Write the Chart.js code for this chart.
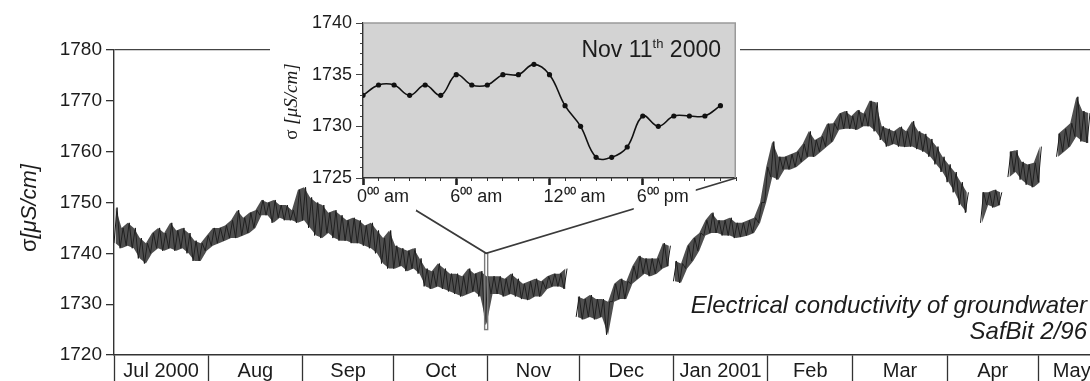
<!DOCTYPE html>
<html>
<head>
<meta charset="utf-8">
<script src="https://cdn.jsdelivr.net/npm/chart.js@4.4.1/dist/chart.umd.min.js"></script>
<style>
  html, body { margin: 0; padding: 0; background: #fff; }
  #wrap { position: relative; width: 1090px; height: 381px; overflow: hidden; }
  #main { position: absolute; left: 0; top: 0; }
  #inset { position: absolute; left: 270px; top: 0; }
</style>
</head>
<body>
<div id="wrap">
  <canvas id="main" width="1090" height="381"></canvas>
  <canvas id="inset" width="470" height="215"></canvas>
</div>
<script>
// ---- Long record: electrical conductivity, SafBit 2/96 (days since 1 Jul 2000) ----
const monthNames = ['Jul 2000', 'Aug', 'Sep', 'Oct', 'Nov', 'Dec', 'Jan 2001', 'Feb', 'Mar', 'Apr', 'May'];
const monthStartDays = [0, 31, 62, 92, 123, 153, 184, 215, 243, 274, 304];
const axisEndDay = 321;
const lastCellEndDay = 326;

const yTicksMain = [1720, 1730, 1740, 1750, 1760, 1770, 1780];

// every reading window gives the lowest and highest value logged in it; null = no data
const sampleDays = [
  0, 2, 4, 6, 8, 10, 12, 14, 16, 18, 20, 22, 24, 26, 28, 30, 32, 34, 36, 38,
  40, 42, 44, 46, 48, 50, 52, 54, 56, 58, 60, 62, 64, 66, 68, 70, 72, 74, 76, 78,
  80, 82, 84, 86, 88, 90, 92, 94, 96, 98, 100, 102, 104, 106, 108, 110, 112, 114, 116, 118,
  120, 122, 124, 126, 128, 130, 132, 134, 136, 138, 140, 142, 144, 146, 148, 150,
  152, 154, 156, 158, 160, 162, 164, 166, 168, 170, 172, 174, 176, 178, 180, 182, 183.5,
  184, 186, 188, 190, 192, 194, 196, 198, 200, 202, 204, 206, 208, 210, 212, 214, 216, 218,
  220, 222, 224, 226, 228, 230, 232, 234, 236, 238, 240, 242, 244, 246, 248, 250, 252, 254,
  256, 258, 260, 262, 264, 266, 268, 270, 272, 274, 276, 278, 280, 282,
  285, 287, 289, 291, 292.5, 294, 296, 298, 300, 302, 304, 307, 310, 312, 314, 316, 318, 320
];
const lowValues = [
  1742, 1741, 1741.5, 1741, 1739, 1738, 1740, 1741, 1740.5, 1741, 1740.5, 1741, 1740, 1738.5, 1738.5, 1740.5, 1741.5, 1742, 1742.5, 1743,
  1743, 1743.5, 1744, 1745, 1747.5, 1747.5, 1746, 1747, 1746.5, 1746.5, 1746, 1746.5, 1745, 1743.5, 1743, 1744, 1743, 1742.5, 1742.5, 1742,
  1742, 1741.5, 1741, 1740, 1738, 1737, 1737, 1737.5, 1736.5, 1737, 1736, 1733.5, 1733, 1733.5, 1733, 1732.5, 1732, 1731.5, 1732, 1732.5,
  1731.5, 1726, 1732, 1732, 1731.5, 1732, 1731.5, 1731, 1730.8, 1731.5, 1731.5, 1733, 1733.5, 1733.5, 1733, null,
  1727.5, 1727, 1727.5, 1727, 1727.5, 1724, 1730.5, 1731, 1731, 1734, 1735, 1736, 1735.5, 1736, 1737, 1737.5, null,
  1734.5, 1734.2, 1737, 1738.5, 1740.5, 1743.5, 1744, 1744, 1743.5, 1743.5, 1743, 1743.2, 1743.5, 1744, 1746, 1750, 1755, 1754.5,
  1756.5, 1756.5, 1757, 1758, 1759, 1759, 1760, 1761, 1762, 1764.3, 1764.5, 1764.5, 1764.3, 1765, 1765, 1764, 1762.3, 1761,
  1761.5, 1761, 1760.9, 1761, 1760.5, 1760, 1759, 1757.5, 1756, 1754, 1752, 1749.5, 1748, null,
  1746, 1749.5, 1749, 1749.5, null, 1755, 1756, 1754.5, 1753.5, 1753, 1754, null, 1759, 1760, 1761, 1763, 1762, 1761.7
];
const highValues = [
  1749, 1745, 1746, 1745, 1743, 1742, 1744, 1745, 1744, 1746, 1744.5, 1745, 1744, 1742.5, 1742, 1743.5, 1745, 1745, 1745.5, 1746.5,
  1748.5, 1747, 1748, 1748.5, 1750.5, 1750, 1750.5, 1749.5, 1749.5, 1748.5, 1752.5, 1753, 1751, 1750, 1749.5, 1748, 1748.5, 1747.5, 1746.5, 1747,
  1746.5, 1745.5, 1746, 1744.5, 1743, 1744.5, 1741.5, 1741, 1740.5, 1741, 1739, 1737, 1736.5, 1738, 1737, 1736, 1736, 1735.5, 1737, 1736,
  1736.5, 1735.5, 1735.5, 1735.5, 1735, 1736, 1735, 1734, 1734.5, 1735, 1734.5, 1735.5, 1736, 1736, 1737, null,
  1731.5, 1731, 1731.8, 1731, 1731, 1730.5, 1734, 1735, 1734.5, 1737.5, 1739.5, 1739, 1739, 1739, 1742, 1741.5, null,
  1738.5, 1738, 1741.5, 1743, 1744, 1746.5, 1748, 1746.5, 1746.5, 1747, 1746, 1746, 1746.5, 1747, 1750, 1757, 1762, 1759,
  1759, 1759.5, 1760, 1761.5, 1764, 1762.3, 1763, 1765.5, 1765.6, 1767.5, 1768, 1767, 1768.2, 1767.5, 1770, 1769.7, 1765, 1764.5,
  1764, 1764.9, 1764, 1766, 1764, 1763.5, 1762.5, 1761, 1759, 1757.5, 1756, 1754, 1752, null,
  1752, 1752, 1752.5, 1752, null, 1760, 1760.3, 1758, 1757.5, 1757.8, 1761, null, 1763.5, 1764.5, 1765.6, 1770.8, 1768, 1767.6
];

// day picked out for the hourly close-up, and the value range it covers
const highlightDay = 122.4;
const highlightRange = [1725, 1740];

// ---- Close-up: hourly readings on Nov 11th 2000 ----
const hours = [0, 1, 2, 3, 4, 5, 6, 7, 8, 9, 10, 11, 12, 13, 14, 15, 16, 17, 18, 19, 20, 21, 22, 23];
const hourlyValues = [1733, 1734, 1734, 1733, 1734, 1733, 1735, 1734, 1734, 1735, 1735, 1736,
                      1735, 1732, 1730, 1727, 1727, 1728, 1731, 1730, 1731, 1731, 1731, 1732];
const hourLabels = { 0: '0\u2070\u2070 am', 6: '6\u2070\u2070 am', 12: '12\u2070\u2070 am', 18: '6\u2070\u2070 pm' };
const insetTicks = [1725, 1730, 1735, 1740];

const SANS = '"Liberation Sans", Arial, sans-serif';
const SERIF = '"Liberation Serif", "Times New Roman", serif';
const INK = '#1c1c1c';

// ---------------- close-up chart ----------------
const insetDecor = {
  id: 'insetDecor',
  beforeDraw(chart) {
    const { ctx, chartArea: a } = chart;
    ctx.save();
    ctx.fillStyle = '#fff';
    ctx.fillRect(0, 0, chart.width, a.bottom);
    ctx.fillRect(0, a.bottom, a.left, 9);
    // paper behind the hour labels
    const xs = chart.scales.x;
    ctx.font = '18px ' + SANS;
    Object.keys(hourLabels).forEach(h => {
      const px = xs.getPixelForValue(+h);
      const w = ctx.measureText(hourLabels[h]).width;
      ctx.fillRect(px - 9, a.bottom, w + 10, 33);
    });
    ctx.fillStyle = '#d3d3d3';
    ctx.fillRect(a.left, a.top, a.right - a.left, a.bottom - a.top);
    ctx.restore();
  },
  afterDraw(chart) {
    const { ctx, chartArea: a } = chart;
    ctx.save();
    ctx.strokeStyle = '#9a9a9a';
    ctx.lineWidth = 1.5;
    ctx.beginPath();
    ctx.moveTo(a.left, a.top);
    ctx.lineTo(a.right - 0.75, a.top);
    ctx.lineTo(a.right - 0.75, a.bottom);
    ctx.stroke();

    // date caption
    ctx.fillStyle = INK;
    ctx.textBaseline = 'alphabetic';
    const big = '23px ' + SANS, small = '13px ' + SANS;
    const parts = [['Nov 11', big, 0], ['th', small, -9], [' 2000', big, 0]];
    let total = 0;
    parts.forEach(p => { ctx.font = p[1]; total += ctx.measureText(p[0]).width; });
    let x = a.right - 15 - total;
    parts.forEach(p => {
      ctx.font = p[1];
      ctx.fillText(p[0], x, 57 + p[2]);
      x += ctx.measureText(p[0]).width;
    });

    // vertical axis caption
    ctx.translate(22, (a.top + a.bottom) / 2 + 1);
    ctx.rotate(-Math.PI / 2);
    const f1 = '19px ' + SERIF, f2 = 'italic 19px ' + SERIF;
    ctx.font = f1; const w1 = ctx.measureText('\u03c3 ').width;
    ctx.font = f2; const w2 = ctx.measureText('[\u03bcS/cm]').width;
    ctx.textBaseline = 'middle';
    ctx.font = f1; ctx.fillText('\u03c3 ', -(w1 + w2) / 2, 0);
    ctx.font = f2; ctx.fillText('[\u03bcS/cm]', -(w1 + w2) / 2 + w1, 0);
    ctx.restore();
  }
};

const insetChart = new Chart(document.getElementById('inset'), {
  type: 'line',
  data: {
    datasets: [{
      data: hours.map((h, i) => ({ x: h, y: hourlyValues[i] })),
      borderColor: '#111',
      borderWidth: 1.6,
      tension: 0.4,
      pointRadius: 2.6,
      pointBackgroundColor: '#111',
      pointBorderWidth: 0
    }]
  },
  options: {
    responsive: false,
    animation: false,
    layout: { padding: { top: 23, right: 0, bottom: 0, left: 0 } },
    plugins: { legend: { display: false }, tooltip: { enabled: false } },
    scales: {
      xm: {
        type: 'linear', position: 'bottom', min: 0, max: 24, weight: 0,
        ticks: { display: false, stepSize: 1 },
        grid: { drawOnChartArea: false, tickLength: 3, tickColor: '#333', tickWidth: 1 },
        border: { display: false },
        afterFit(s) { s.height = 0; }
      },
      x: {
        type: 'linear', position: 'bottom', min: 0, max: 24, weight: 1,
        afterBuildTicks(s) { s.ticks = Object.keys(hourLabels).map(h => ({ value: +h })); },
        ticks: {
          autoSkip: false, maxRotation: 0, align: 'start', labelOffset: -6, padding: 1,
          color: INK, font: { family: SANS, size: 18 },
          callback: v => hourLabels[v] || ''
        },
        grid: { drawOnChartArea: false, tickLength: 7, tickColor: '#222', tickWidth: 2.6 },
        border: { color: '#333', width: 1.4 },
        afterFit(s) { s.height = 37; }
      },
      ym: {
        type: 'linear', position: 'left', min: 1725, max: 1740, weight: 0,
        ticks: { display: false, stepSize: 1 },
        grid: { drawOnChartArea: false, tickLength: 3, tickColor: '#444', tickWidth: 1 },
        border: { display: false },
        afterFit(s) { s.width = 0; }
      },
      y: {
        type: 'linear', position: 'left', min: 1725, max: 1740, weight: 1,
        afterBuildTicks(s) { s.ticks = insetTicks.map(v => ({ value: v })); },
        ticks: { color: INK, font: { family: SANS, size: 18 }, padding: 4, callback: v => String(v) },
        grid: { drawOnChartArea: false, tickLength: 7, tickColor: '#444', tickWidth: 1 },
        border: { color: '#333', width: 1.4 },
        afterFit(s) { s.width = 93; }
      }
    }
  },
  plugins: [insetDecor]
});

// ---------------- long record chart ----------------
const monthMids = monthStartDays.map((d, i) => (d + (i + 1 < monthStartDays.length ? monthStartDays[i + 1] : lastCellEndDay)) / 2);
const monthLabelAt = new Map(monthMids.map((d, i) => [d, monthNames[i]]));
const boundarySet = new Set(monthStartDays);

// trace swings between the low and high of each window
const tracePoints = [];
sampleDays.forEach((d, i) => {
  tracePoints.push({ x: d, y: lowValues[i] });
  tracePoints.push({ x: d + 1, y: highValues[i] });
});
const lowEnvelope = sampleDays.map((d, i) => ({ x: d + 0.5, y: lowValues[i] }));
const highEnvelope = sampleDays.map((d, i) => ({ x: d + 0.5, y: highValues[i] }));

const mainDecor = {
  id: 'mainDecor',
  afterDatasetsDraw(chart) {
    const { ctx } = chart;
    const xs = chart.scales.x, ys = chart.scales.y;
    const x0 = xs.getPixelForValue(highlightDay - 0.5);
    const x1 = xs.getPixelForValue(highlightDay + 0.5);
    const yTop = ys.getPixelForValue(highlightRange[1]);
    const yBot = ys.getPixelForValue(highlightRange[0]);
    ctx.save();
    ctx.strokeStyle = '#7a7a7a';
    ctx.lineWidth = 1.4;
    ctx.strokeRect(x0, yTop, x1 - x0, yBot - yTop);

    // leader lines up to the close-up frame
    const off = document.getElementById('inset');
    const ia = insetChart.chartArea;
    const ox = off.offsetLeft, oy = off.offsetTop;
    const xc = (x0 + x1) / 2;
    ctx.strokeStyle = '#3a3a3a';
    ctx.lineWidth = 1.8;
    ctx.beginPath();
    ctx.moveTo(ox + ia.left, oy + ia.bottom);
    ctx.lineTo(xc, yTop);
    ctx.lineTo(ox + ia.right, oy + ia.bottom);
    ctx.stroke();

    // caption
    ctx.fillStyle = INK;
    ctx.textAlign = 'right';
    ctx.textBaseline = 'alphabetic';
    ctx.font = 'italic 24px ' + SANS;
    ctx.fillText('Electrical conductivity of groundwater', 1087, 313);
    ctx.fillText('SafBit 2/96', 1087, 339);

    // vertical axis caption
    ctx.translate(30, 208);
    ctx.rotate(-Math.PI / 2);
    const f1 = '22px ' + SANS, f2 = 'italic 22px ' + SANS;
    ctx.font = f1; const w1 = ctx.measureText('\u03c3').width;
    ctx.font = f2; const w2 = ctx.measureText('[\u03bcS/cm]').width;
    ctx.textAlign = 'left';
    ctx.textBaseline = 'middle';
    ctx.font = f1; ctx.fillText('\u03c3', -(w1 + w2) / 2, 0);
    ctx.font = f2; ctx.fillText('[\u03bcS/cm]', -(w1 + w2) / 2 + w1, 0);
    ctx.restore();
  }
};

new Chart(document.getElementById('main'), {
  type: 'line',
  data: {
    datasets: [
      {
        data: lowEnvelope,
        borderWidth: 0,
        pointRadius: 0,
        spanGaps: false,
        fill: false
      },
      {
        data: highEnvelope,
        borderWidth: 0,
        pointRadius: 0,
        spanGaps: false,
        fill: '-1',
        backgroundColor: 'rgba(35,35,35,0.8)'
      },
      {
        data: tracePoints,
        borderColor: '#151515',
        borderWidth: 1,
        pointRadius: 0,
        spanGaps: false
      }
    ]
  },
  options: {
    responsive: false,
    animation: false,
    layout: { padding: { top: 50, right: 0, bottom: 0, left: 0 } },
    plugins: { legend: { display: false }, tooltip: { enabled: false }, filler: { propagate: false } },
    scales: {
      x: {
        type: 'linear', position: 'bottom', min: 0, max: axisEndDay,
        afterBuildTicks(s) {
          const vals = [...monthStartDays, ...monthMids, axisEndDay];
          s.ticks = vals.map(v => ({ value: v }));
        },
        ticks: {
          autoSkip: false, maxRotation: 0, padding: -22,
          color: INK, font: { family: SANS, size: 20 },
          callback: v => monthLabelAt.get(v) || ''
        },
        grid: {
          drawOnChartArea: false, tickLength: 26, tickWidth: 1.3,
          tickColor: c => (c.tick && boundarySet.has(c.tick.value)) ? '#333' : 'rgba(0,0,0,0)'
        },
        border: { color: '#333', width: 1.4 },
        afterFit(s) { s.height = 26; }
      },
      y: {
        type: 'linear', position: 'left', min: 1720, max: 1780,
        afterBuildTicks(s) { s.ticks = yTicksMain.map(v => ({ value: v })); },
        ticks: { color: INK, font: { family: SANS, size: 19 }, padding: 4, callback: v => String(v) },
        grid: {
          drawOnChartArea: true, tickLength: 8, tickColor: '#333', lineWidth: 1.3,
          color: c => (c.tick && c.tick.value === 1780) ? '#444' : 'rgba(0,0,0,0)'
        },
        border: { color: '#333', width: 1.4 },
        afterFit(s) { s.width = 114; }
      }
    }
  },
  plugins: [mainDecor]
});
</script>
</body>
</html>
